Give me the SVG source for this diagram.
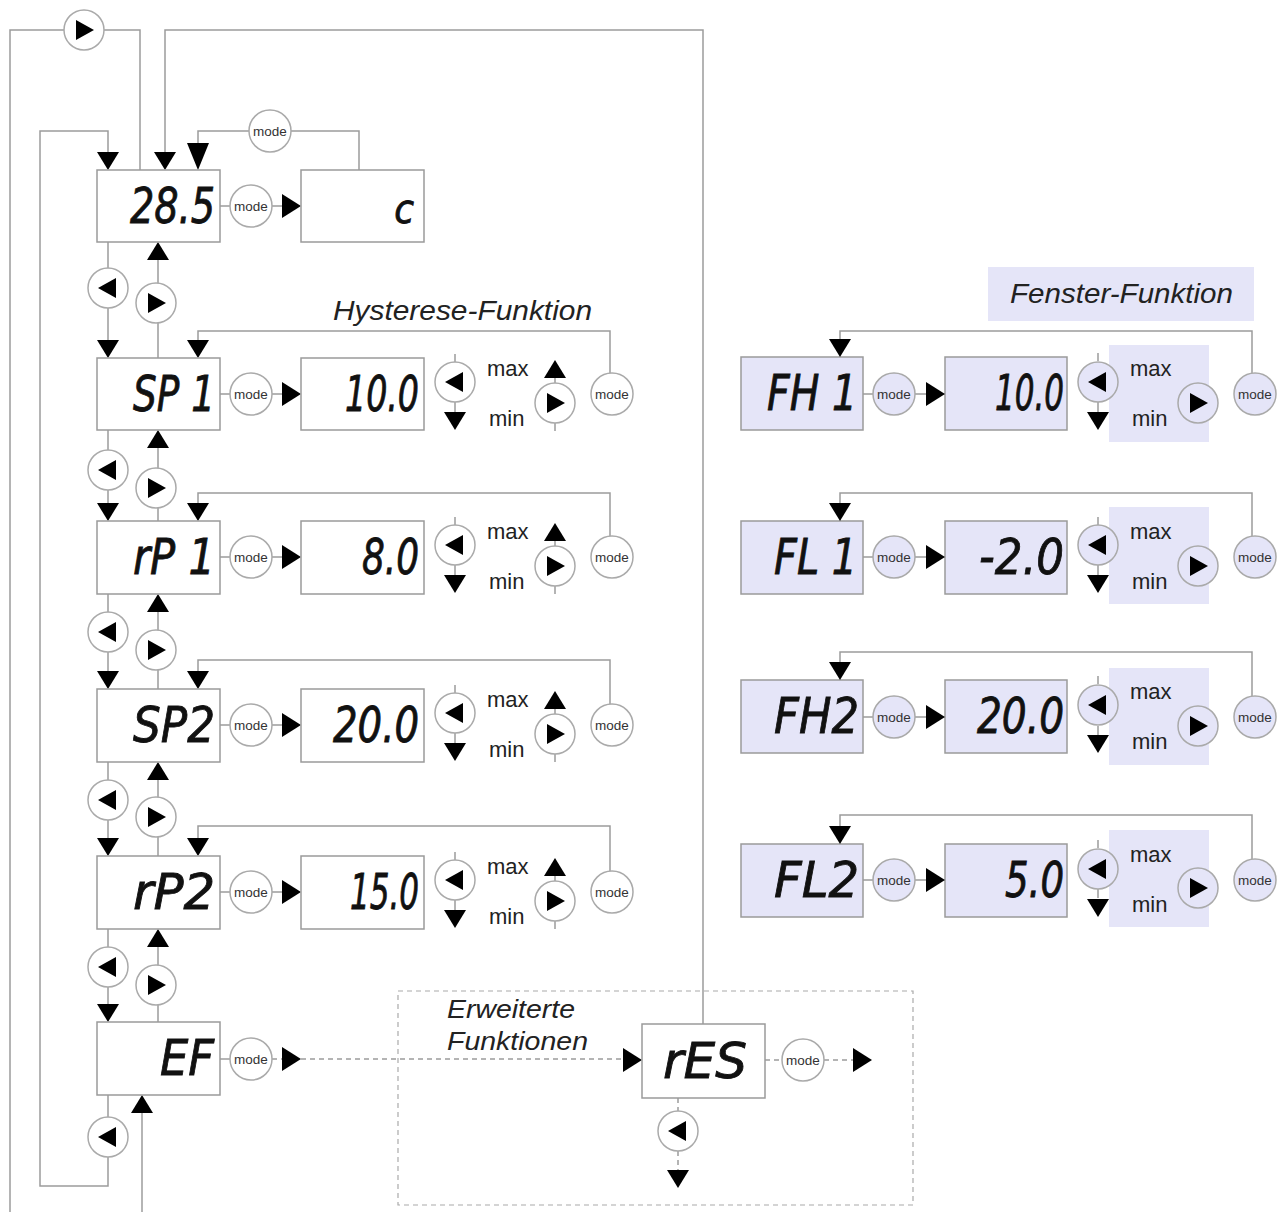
<svg xmlns="http://www.w3.org/2000/svg" xmlns:xlink="http://www.w3.org/1999/xlink" width="1281" height="1212" viewBox="0 0 1281 1212">
<style>
.ln{fill:none;stroke:#9c9c9c;stroke-width:1.5}
.dl{fill:none;stroke:#9c9c9c;stroke-width:1.5;stroke-dasharray:5 4}
.box{fill:#fff;stroke:#9a9a9a;stroke-width:1.5}
.lbox{fill:#e5e5f8;stroke:#9a9a9a;stroke-width:1.5}
.lav{fill:#e5e5f8}
.seg{font-family:"DejaVu Sans","Liberation Sans",sans-serif;font-stretch:condensed;font-style:oblique;font-weight:normal;font-size:49px;text-anchor:end;fill:#111;stroke:#111;stroke-width:0.8}
.lbl{font-family:"Liberation Sans",Arial,sans-serif;font-size:22px;fill:#222}
.ttl{font-family:"Liberation Sans",Arial,sans-serif;font-style:italic;font-size:27px;fill:#222}
.md{font-family:"Liberation Sans",Arial,sans-serif;font-size:13.5px;fill:#333;text-anchor:middle}
</style>
<defs>
<polygon id="aDn" points="-11,-18 11,-18 0,0" fill="#000"/>
<polygon id="aUp" points="-11,18 11,18 0,0" fill="#000"/>
<polygon id="aRt" points="-19,-12 -19,12 0,0" fill="#000"/>
<g id="bL"><circle r="20" stroke="#aaa" stroke-width="1.5"/><polygon points="-10,0 8,-10 8,10" fill="#000"/></g>
<g id="bR"><circle r="20" stroke="#aaa" stroke-width="1.5"/><polygon points="10,0 -8,-10 -8,10" fill="#000"/></g>
<g id="mode"><circle r="21" stroke="#aaa" stroke-width="1.5"/><text class="md" y="5">mode</text></g>
</defs>

<g id="connectors">
<path class="ln" d="M140,170 V30 H10 V1212"/>
<path class="ln" d="M108,153 V131 H40 V1186 H108 V1095"/>
<path class="ln" d="M165,153 V30 H703 V1024"/>
<path class="ln" d="M198,143 V131 H359 V170"/>
<use href="#aDn" x="108" y="170"/>
<use href="#aDn" x="165" y="170"/>
<polygon points="187,143 209,143 198,170" fill="#000"/>
<use href="#bR" x="84" y="30" fill="#fff"/>
<use href="#mode" x="270" y="131" fill="#fff"/>
<use href="#bL" x="108" y="1137" fill="#fff"/>
<path class="ln" d="M142,1212 V1113"/>
<use href="#aUp" x="142" y="1095"/>

<path class="ln" d="M108,242 V340 M158,358 V260"/>
<use href="#bL" x="108" y="288" fill="#fff"/><use href="#bR" x="156" y="303" fill="#fff"/>
<use href="#aDn" x="108" y="358"/><use href="#aUp" x="158" y="242"/>

<path class="ln" d="M108,430 V503 M158,521 V448"/>
<use href="#bL" x="108" y="470" fill="#fff"/><use href="#bR" x="156" y="488" fill="#fff"/>
<use href="#aDn" x="108" y="521"/><use href="#aUp" x="158" y="430"/>

<path class="ln" d="M108,594 V671 M158,689 V612"/>
<use href="#bL" x="108" y="632" fill="#fff"/><use href="#bR" x="156" y="650" fill="#fff"/>
<use href="#aDn" x="108" y="689"/><use href="#aUp" x="158" y="594"/>

<path class="ln" d="M108,762 V838 M158,856 V780"/>
<use href="#bL" x="108" y="800" fill="#fff"/><use href="#bR" x="156" y="817" fill="#fff"/>
<use href="#aDn" x="108" y="856"/><use href="#aUp" x="158" y="762"/>

<path class="ln" d="M108,929 V1004 M158,1022 V947"/>
<use href="#bL" x="108" y="967" fill="#fff"/><use href="#bR" x="156" y="985" fill="#fff"/>
<use href="#aDn" x="108" y="1022"/><use href="#aUp" x="158" y="929"/>

<path class="ln" d="M220,206 H230 M272,206 H283"/>
<use href="#mode" x="251" y="206" fill="#fff"/>
<use href="#aRt" x="301" y="206"/>

<path class="ln" d="M220,394 H230 M272,394 H283 M455,354 V362 M455,402 V412 M555,378 V383 M555,423 V431 M610,373 V331 H198 V340"/>
<use href="#mode" x="251" y="394" fill="#fff"/><use href="#aRt" x="301" y="394"/>
<use href="#bL" x="455" y="382" fill="#fff"/><use href="#aDn" x="455" y="430"/>
<use href="#aUp" x="555" y="360"/><use href="#bR" x="555" y="403" fill="#fff"/>
<use href="#mode" x="612" y="394" fill="#fff"/><use href="#aDn" x="198" y="358"/>

<path class="ln" d="M220,557 H230 M272,557 H283 M455,517 V525 M455,565 V575 M555,541 V546 M555,586 V594 M610,536 V493 H198 V503"/>
<use href="#mode" x="251" y="557" fill="#fff"/><use href="#aRt" x="301" y="557"/>
<use href="#bL" x="455" y="545" fill="#fff"/><use href="#aDn" x="455" y="593"/>
<use href="#aUp" x="555" y="523"/><use href="#bR" x="555" y="566" fill="#fff"/>
<use href="#mode" x="612" y="557" fill="#fff"/><use href="#aDn" x="198" y="521"/>

<path class="ln" d="M220,725 H230 M272,725 H283 M455,685 V693 M455,733 V743 M555,709 V714 M555,754 V762 M610,704 V660 H198 V671"/>
<use href="#mode" x="251" y="725" fill="#fff"/><use href="#aRt" x="301" y="725"/>
<use href="#bL" x="455" y="713" fill="#fff"/><use href="#aDn" x="455" y="761"/>
<use href="#aUp" x="555" y="691"/><use href="#bR" x="555" y="734" fill="#fff"/>
<use href="#mode" x="612" y="725" fill="#fff"/><use href="#aDn" x="198" y="689"/>

<path class="ln" d="M220,892 H230 M272,892 H283 M455,852 V860 M455,900 V910 M555,876 V881 M555,921 V929 M610,871 V826 H198 V838"/>
<use href="#mode" x="251" y="892" fill="#fff"/><use href="#aRt" x="301" y="892"/>
<use href="#bL" x="455" y="880" fill="#fff"/><use href="#aDn" x="455" y="928"/>
<use href="#aUp" x="555" y="858"/><use href="#bR" x="555" y="901" fill="#fff"/>
<use href="#mode" x="612" y="892" fill="#fff"/><use href="#aDn" x="198" y="856"/>

<path class="ln" d="M220,1059 H230"/>
<path class="dl" d="M272,1059 H283 M301,1059 H623 M765,1060 H782 M824,1060 H853 M678,1098 V1111 M678,1151 V1170"/>
<use href="#mode" x="251" y="1059" fill="#fff"/><use href="#aRt" x="301" y="1059"/>
<use href="#aRt" x="642" y="1060"/>
<use href="#mode" x="803" y="1060" fill="#fff"/><use href="#aRt" x="872" y="1060"/>
<use href="#bL" x="678" y="1131" fill="#fff"/><use href="#aDn" x="678" y="1188"/>
</g>

<rect x="398" y="991" width="515" height="214" fill="none" stroke="#aaa" stroke-width="1.2" stroke-dasharray="5 4"/>

<g id="n285"><rect class="box" x="97" y="170" width="123" height="72"/><text class="seg" x="215" y="223" textLength="85" lengthAdjust="spacingAndGlyphs">28.5</text></g>
<g id="nC"><rect class="box" x="301" y="170" width="123" height="72"/><text class="seg" x="414" y="223" style="font-size:40px">c</text></g>

<text class="ttl" x="333" y="320" textLength="259" lengthAdjust="spacingAndGlyphs">Hysterese-Funktion</text>

<g id="nSP1"><rect class="box" x="97" y="358" width="123" height="72"/><text class="seg" x="215" y="411" textLength="82" lengthAdjust="spacingAndGlyphs">SP 1</text></g>
<g id="vSP1"><rect class="box" x="301" y="358" width="123" height="72"/><text class="seg" x="419" y="411" textLength="74" lengthAdjust="spacingAndGlyphs">10.0</text>
<text class="lbl" x="487" y="376">max</text><text class="lbl" x="489" y="426">min</text></g>

<g id="nrP1"><rect class="box" x="97" y="521" width="123" height="73"/><text class="seg" x="215" y="574" textLength="82" lengthAdjust="spacingAndGlyphs">rP 1</text></g>
<g id="vrP1"><rect class="box" x="301" y="521" width="123" height="73"/><text class="seg" x="419" y="574" textLength="57" lengthAdjust="spacingAndGlyphs">8.0</text>
<text class="lbl" x="487" y="539">max</text><text class="lbl" x="489" y="589">min</text></g>

<g id="nSP2"><rect class="box" x="97" y="689" width="123" height="73"/><text class="seg" x="215" y="742" textLength="82" lengthAdjust="spacingAndGlyphs">SP2</text></g>
<g id="vSP2"><rect class="box" x="301" y="689" width="123" height="73"/><text class="seg" x="419" y="742" textLength="86" lengthAdjust="spacingAndGlyphs">20.0</text>
<text class="lbl" x="487" y="707">max</text><text class="lbl" x="489" y="757">min</text></g>

<g id="nrP2"><rect class="box" x="97" y="856" width="123" height="73"/><text class="seg" x="215" y="909" textLength="82" lengthAdjust="spacingAndGlyphs">rP2</text></g>
<g id="vrP2"><rect class="box" x="301" y="856" width="123" height="73"/><text class="seg" x="419" y="909" textLength="69" lengthAdjust="spacingAndGlyphs">15.0</text>
<text class="lbl" x="487" y="874">max</text><text class="lbl" x="489" y="924">min</text></g>

<g id="nEF"><rect class="box" x="97" y="1022" width="123" height="73"/><text class="seg" x="214" y="1075" textLength="54" lengthAdjust="spacingAndGlyphs">EF</text></g>

<text class="ttl" x="447" y="1018" textLength="128" lengthAdjust="spacingAndGlyphs" style="font-size:25px">Erweiterte</text>
<text class="ttl" x="447" y="1050" textLength="141" lengthAdjust="spacingAndGlyphs" style="font-size:25px">Funktionen</text>

<g id="nrES"><rect class="box" x="642" y="1024" width="123" height="74"/><text class="seg" x="747" y="1078" textLength="84" lengthAdjust="spacingAndGlyphs">rES</text></g>

<g id="fensterTitle"><rect class="lav" x="988" y="267" width="266" height="54"/><text class="ttl" x="1010" y="303" textLength="223" lengthAdjust="spacingAndGlyphs">Fenster-Funktion</text></g>

<g id="fconn">
<path class="ln" d="M863,394 H873 M915,394 H926 M1098,353 V361 M1098,402 V412 M1252,373 V331 H840 V339"/>
<path class="ln" d="M863,557 H873 M915,557 H926 M1098,517 V525 M1098,565 V575 M1252,536 V493 H840 V503"/>
<path class="ln" d="M863,717 H873 M915,717 H926 M1098,676 V684 M1098,726 V735 M1252,696 V652 H840 V662"/>
<path class="ln" d="M863,880 H873 M915,880 H926 M1098,840 V848 M1098,889 V898 M1252,859 V815 H840 V826"/>
</g>

<g id="nFH1"><rect class="lbox" x="741" y="357" width="122" height="73"/><text class="seg" x="857" y="410" textLength="90" lengthAdjust="spacingAndGlyphs">FH 1</text></g>
<g id="vFH1"><rect class="lbox" x="945" y="357" width="122" height="73"/><text class="seg" x="1064" y="410" textLength="69" lengthAdjust="spacingAndGlyphs">10.0</text>
<rect class="lav" x="1109" y="345" width="100" height="97"/>
<text class="lbl" x="1130" y="376">max</text><text class="lbl" x="1132" y="426">min</text></g>
<use href="#mode" x="894" y="394" fill="#e5e5f8"/><use href="#aRt" x="945" y="394"/>
<use href="#bL" x="1098" y="382" fill="#e5e5f8"/><use href="#aDn" x="1098" y="430"/>
<use href="#bR" x="1198" y="403" fill="#e5e5f8"/>
<use href="#mode" x="1255" y="394" fill="#e5e5f8"/><use href="#aDn" x="840" y="357"/>

<g id="nFL1"><rect class="lbox" x="741" y="521" width="122" height="73"/><text class="seg" x="857" y="574" textLength="83" lengthAdjust="spacingAndGlyphs">FL 1</text></g>
<g id="vFL1"><rect class="lbox" x="945" y="521" width="122" height="73"/><text class="seg" x="1064" y="574" textLength="85" lengthAdjust="spacingAndGlyphs">-2.0</text>
<rect class="lav" x="1109" y="507" width="100" height="97"/>
<text class="lbl" x="1130" y="539">max</text><text class="lbl" x="1132" y="589">min</text></g>
<use href="#mode" x="894" y="557" fill="#e5e5f8"/><use href="#aRt" x="945" y="557"/>
<use href="#bL" x="1098" y="545" fill="#e5e5f8"/><use href="#aDn" x="1098" y="593"/>
<use href="#bR" x="1198" y="566" fill="#e5e5f8"/>
<use href="#mode" x="1255" y="557" fill="#e5e5f8"/><use href="#aDn" x="840" y="521"/>

<g id="nFH2"><rect class="lbox" x="741" y="680" width="122" height="73"/><text class="seg" x="859" y="733" textLength="85" lengthAdjust="spacingAndGlyphs">FH2</text></g>
<g id="vFH2"><rect class="lbox" x="945" y="680" width="122" height="73"/><text class="seg" x="1064" y="733" textLength="87" lengthAdjust="spacingAndGlyphs">20.0</text>
<rect class="lav" x="1109" y="668" width="100" height="97"/>
<text class="lbl" x="1130" y="699">max</text><text class="lbl" x="1132" y="749">min</text></g>
<use href="#mode" x="894" y="717" fill="#e5e5f8"/><use href="#aRt" x="945" y="717"/>
<use href="#bL" x="1098" y="705" fill="#e5e5f8"/><use href="#aDn" x="1098" y="753"/>
<use href="#bR" x="1198" y="726" fill="#e5e5f8"/>
<use href="#mode" x="1255" y="717" fill="#e5e5f8"/><use href="#aDn" x="840" y="680"/>

<g id="nFL2"><rect class="lbox" x="741" y="844" width="122" height="73"/><text class="seg" x="859" y="897" textLength="85" lengthAdjust="spacingAndGlyphs">FL2</text></g>
<g id="vFL2"><rect class="lbox" x="945" y="844" width="122" height="73"/><text class="seg" x="1064" y="897" textLength="59" lengthAdjust="spacingAndGlyphs">5.0</text>
<rect class="lav" x="1109" y="830" width="100" height="97"/>
<text class="lbl" x="1130" y="862">max</text><text class="lbl" x="1132" y="912">min</text></g>
<use href="#mode" x="894" y="880" fill="#e5e5f8"/><use href="#aRt" x="945" y="880"/>
<use href="#bL" x="1098" y="869" fill="#e5e5f8"/><use href="#aDn" x="1098" y="917"/>
<use href="#bR" x="1198" y="888" fill="#e5e5f8"/>
<use href="#mode" x="1255" y="880" fill="#e5e5f8"/><use href="#aDn" x="840" y="844"/>
</svg>
